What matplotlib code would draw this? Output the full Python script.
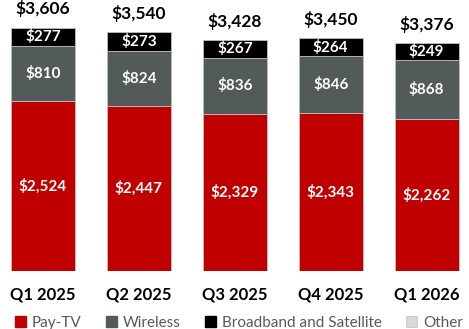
import matplotlib.pyplot as plt
from matplotlib.patches import Patch

plt.rcParams['font.family'] = ['Lato', 'DejaVu Sans']

quarters = ['Q1 2025', 'Q2 2025', 'Q3 2025', 'Q4 2025', 'Q1 2026']
pay_tv = [2524, 2447, 2329, 2343, 2262]
wireless = [810, 824, 836, 846, 868]
broadband = [277, 273, 267, 264, 249]
totals = [3606, 3540, 3428, 3450, 3376]

red = '#C00000'
gray = '#535A5A'
black = '#000000'
other_c = '#D9D9D9'

fig = plt.figure(figsize=(4.69, 3.29), dpi=100)
ax = fig.add_axes([0, 0.176, 1, 0.824])

x = list(range(len(quarters)))
w = 0.667
edge = dict(edgecolor='#BFBFBF', linewidth=0.6)

ax.bar(x, pay_tv, w, color=red, **edge)
ax.bar(x, wireless, w, bottom=pay_tv, color=gray, **edge)
bottom3 = [a + b for a, b in zip(pay_tv, wireless)]
ax.bar(x, broadband, w, bottom=bottom3, color=black, **edge)

def money(v):
    return '${:,}'.format(v)

for i in x:
    ax.text(i, pay_tv[i] / 2, money(pay_tv[i]), ha='center', va='center',
            color='white', fontsize=11, fontweight='bold')
    ax.text(i, pay_tv[i] + wireless[i] / 2, money(wireless[i]), ha='center',
            va='center', color='white', fontsize=11, fontweight='bold')
    ax.text(i, bottom3[i] + broadband[i] / 2, money(broadband[i]), ha='center',
            va='center', color='white', fontsize=11, fontweight='bold')
    top = bottom3[i] + broadband[i]
    ax.text(i, top + 150, money(totals[i]), ha='center', va='bottom',
            color='black', fontsize=12.5, fontweight='bold')

ax.set_xlim(-0.448, 4.442)
ax.set_ylim(0, 4020)
ax.axis('off')

for i, q in enumerate(quarters):
    ax.text(i, -340, q, ha='center', va='center', fontsize=12,
            fontweight='bold', color='black')

handles = [Patch(color=red), Patch(color=gray), Patch(color=black),
           Patch(facecolor=other_c, edgecolor='#BFBFBF', linewidth=0.5)]
labels = ['Pay-TV', 'Wireless', 'Broadband and Satellite', 'Other']
fig.legend(handles, labels, loc='lower center', ncol=4, frameon=False,
           bbox_to_anchor=(0.51, -0.045), fontsize=11, handlelength=0.7,
           handleheight=0.7, handletextpad=0.4, columnspacing=1.6,
           labelcolor='#595959')

fig.savefig('out.png', dpi=100)
